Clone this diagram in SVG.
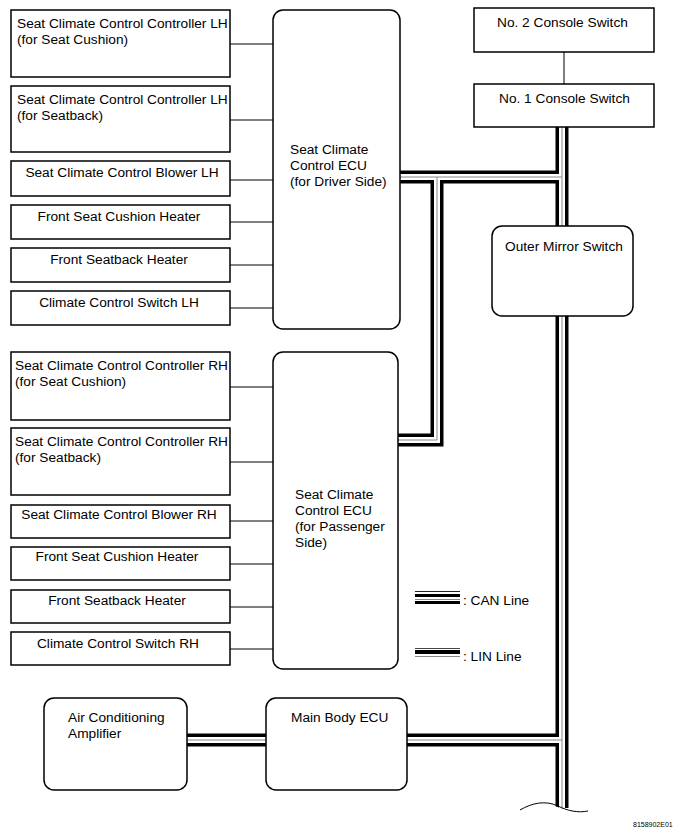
<svg xmlns="http://www.w3.org/2000/svg" width="682" height="836" viewBox="0 0 682 836">
<style>
.box{fill:#fff;stroke:#000;stroke-width:1.5}
.t{font-family:"Liberation Sans",Arial,sans-serif;font-size:13.7px;fill:#000}
.thin{stroke:#000;stroke-width:1;fill:none}
.bk{stroke:#000;stroke-width:13;fill:none}
.wh{stroke:#fff;stroke-width:6;fill:none}
.gr{stroke:#888;stroke-width:1;fill:none}
</style>
<rect width="682" height="836" fill="#fff"/>
<g id="connectors">
<path class="thin" d="M230,44H273M230,120H273M230,180H273M230,222H273M230,265H273M230,308H273"/>
<path class="thin" d="M230,387H273M230,462H273M230,521H273M230,564H273M230,607H273M230,649H273"/>
<path class="thin" d="M564,52V84"/>
<g id="bus-black">
<path class="bk" d="M562,127V808"/>
<path class="bk" d="M400,177H562"/>
<path class="bk" d="M437,177V440H398"/>
<path class="bk" d="M407,740H562"/>
<path class="bk" d="M187,740H266"/>
</g>
<g id="bus-white">
<path class="wh" d="M562,127V812"/>
<path class="wh" d="M400,177H562"/>
<path class="wh" d="M437,177V440H398"/>
<path class="wh" d="M407,740H562"/>
<path class="wh" d="M187,740H266"/>
</g>
<g id="bus-gray">
<path class="gr" d="M562,127V812"/>
<path class="gr" d="M400,177H562"/>
<path class="gr" d="M437,177V440H398"/>
<path class="gr" d="M407,740H562"/>
<path class="gr" d="M187,740H266"/>
</g>
<path d="M515,818 C530,808 545,802 560,808 C570,812 580,816 590,814 L590,836 L515,836Z" fill="#fff"/>
<path class="thin" d="M520,810 C532,803 545,800 558,806 C568,811 578,813 588,811" stroke-width="1.3"/>
</g>
<g id="n-lh-cushion"><rect class="box" x="11" y="10" width="219" height="67"/><text class="t" x="17" y="28">Seat Climate Control Controller LH</text><text class="t" x="17" y="44">(for Seat Cushion)</text></g>
<g id="n-lh-seatback"><rect class="box" x="11" y="86" width="219" height="66"/><text class="t" x="17" y="104">Seat Climate Control Controller LH</text><text class="t" x="17" y="120">(for Seatback)</text></g>
<g id="n-blower-lh"><rect class="box" x="11" y="161" width="219" height="35"/><text class="t" x="122" y="177" text-anchor="middle">Seat Climate Control Blower LH</text></g>
<g id="n-cushion-heater-lh"><rect class="box" x="11" y="205" width="219" height="34"/><text class="t" x="119" y="221" text-anchor="middle">Front Seat Cushion Heater</text></g>
<g id="n-seatback-heater-lh"><rect class="box" x="11" y="248" width="219" height="34"/><text class="t" x="119" y="264" text-anchor="middle">Front Seatback Heater</text></g>
<g id="n-switch-lh"><rect class="box" x="11" y="291" width="219" height="34"/><text class="t" x="119" y="307" text-anchor="middle">Climate Control Switch LH</text></g>
<g id="n-ecu-driver"><rect class="box" x="273" y="10" width="127" height="319" rx="10"/><text class="t" x="290" y="154">Seat Climate</text><text class="t" x="290" y="170">Control ECU</text><text class="t" x="290" y="186">(for Driver Side)</text></g>
<g id="n-rh-cushion"><rect class="box" x="11" y="352" width="219" height="68"/><text class="t" x="15" y="370">Seat Climate Control Controller RH</text><text class="t" x="15" y="386">(for Seat Cushion)</text></g>
<g id="n-rh-seatback"><rect class="box" x="11" y="428" width="219" height="67"/><text class="t" x="15" y="446">Seat Climate Control Controller RH</text><text class="t" x="15" y="462">(for Seatback)</text></g>
<g id="n-blower-rh"><rect class="box" x="11" y="505" width="219" height="33"/><text class="t" x="119" y="519" text-anchor="middle">Seat Climate Control Blower RH</text></g>
<g id="n-cushion-heater-rh"><rect class="box" x="11" y="547" width="219" height="33"/><text class="t" x="117" y="561" text-anchor="middle">Front Seat Cushion Heater</text></g>
<g id="n-seatback-heater-rh"><rect class="box" x="11" y="590" width="219" height="33"/><text class="t" x="117" y="605" text-anchor="middle">Front Seatback Heater</text></g>
<g id="n-switch-rh"><rect class="box" x="11" y="632" width="219" height="33"/><text class="t" x="118" y="648" text-anchor="middle">Climate Control Switch RH</text></g>
<g id="n-ecu-passenger"><rect class="box" x="273" y="352" width="125" height="317" rx="10"/><text class="t" x="295" y="499">Seat Climate</text><text class="t" x="295" y="515">Control ECU</text><text class="t" x="295" y="531">(for Passenger</text><text class="t" x="295" y="547">Side)</text></g>
<g id="n-console2"><rect class="box" x="474" y="8" width="180" height="44"/><text class="t" x="497" y="27">No. 2 Console Switch</text></g>
<g id="n-console1"><rect class="box" x="474" y="84" width="180" height="43"/><text class="t" x="499" y="103">No. 1 Console Switch</text></g>
<g id="n-mirror"><rect class="box" x="492" y="226" width="141" height="90" rx="10"/><text class="t" x="505" y="251">Outer Mirror Switch</text></g>
<g id="n-ac"><rect class="box" x="44" y="698" width="143" height="92" rx="10"/><text class="t" x="68" y="722">Air Conditioning</text><text class="t" x="68" y="738">Amplifier</text></g>
<g id="n-body"><rect class="box" x="266" y="698" width="141" height="92" rx="10"/><text class="t" x="291" y="722">Main Body ECU</text></g>
<g id="legend">
<rect x="415" y="591" width="45" height="1" fill="#222"/>
<rect x="415" y="594" width="45" height="3" fill="#000"/>
<rect x="415" y="599" width="45" height="1" fill="#888"/>
<rect x="415" y="601" width="45" height="3" fill="#000"/>
<text class="t" x="463" y="605">:  CAN Line</text>
<rect x="415" y="648" width="45" height="1" fill="#444"/>
<rect x="415" y="650" width="45" height="4" fill="#000"/>
<rect x="415" y="656" width="45" height="1" fill="#888"/>
<text class="t" x="463" y="661">:  LIN Line</text>
</g>
<text x="633" y="827" font-family="Liberation Sans,Arial,sans-serif" font-size="7">8158902E01</text>
</svg>
